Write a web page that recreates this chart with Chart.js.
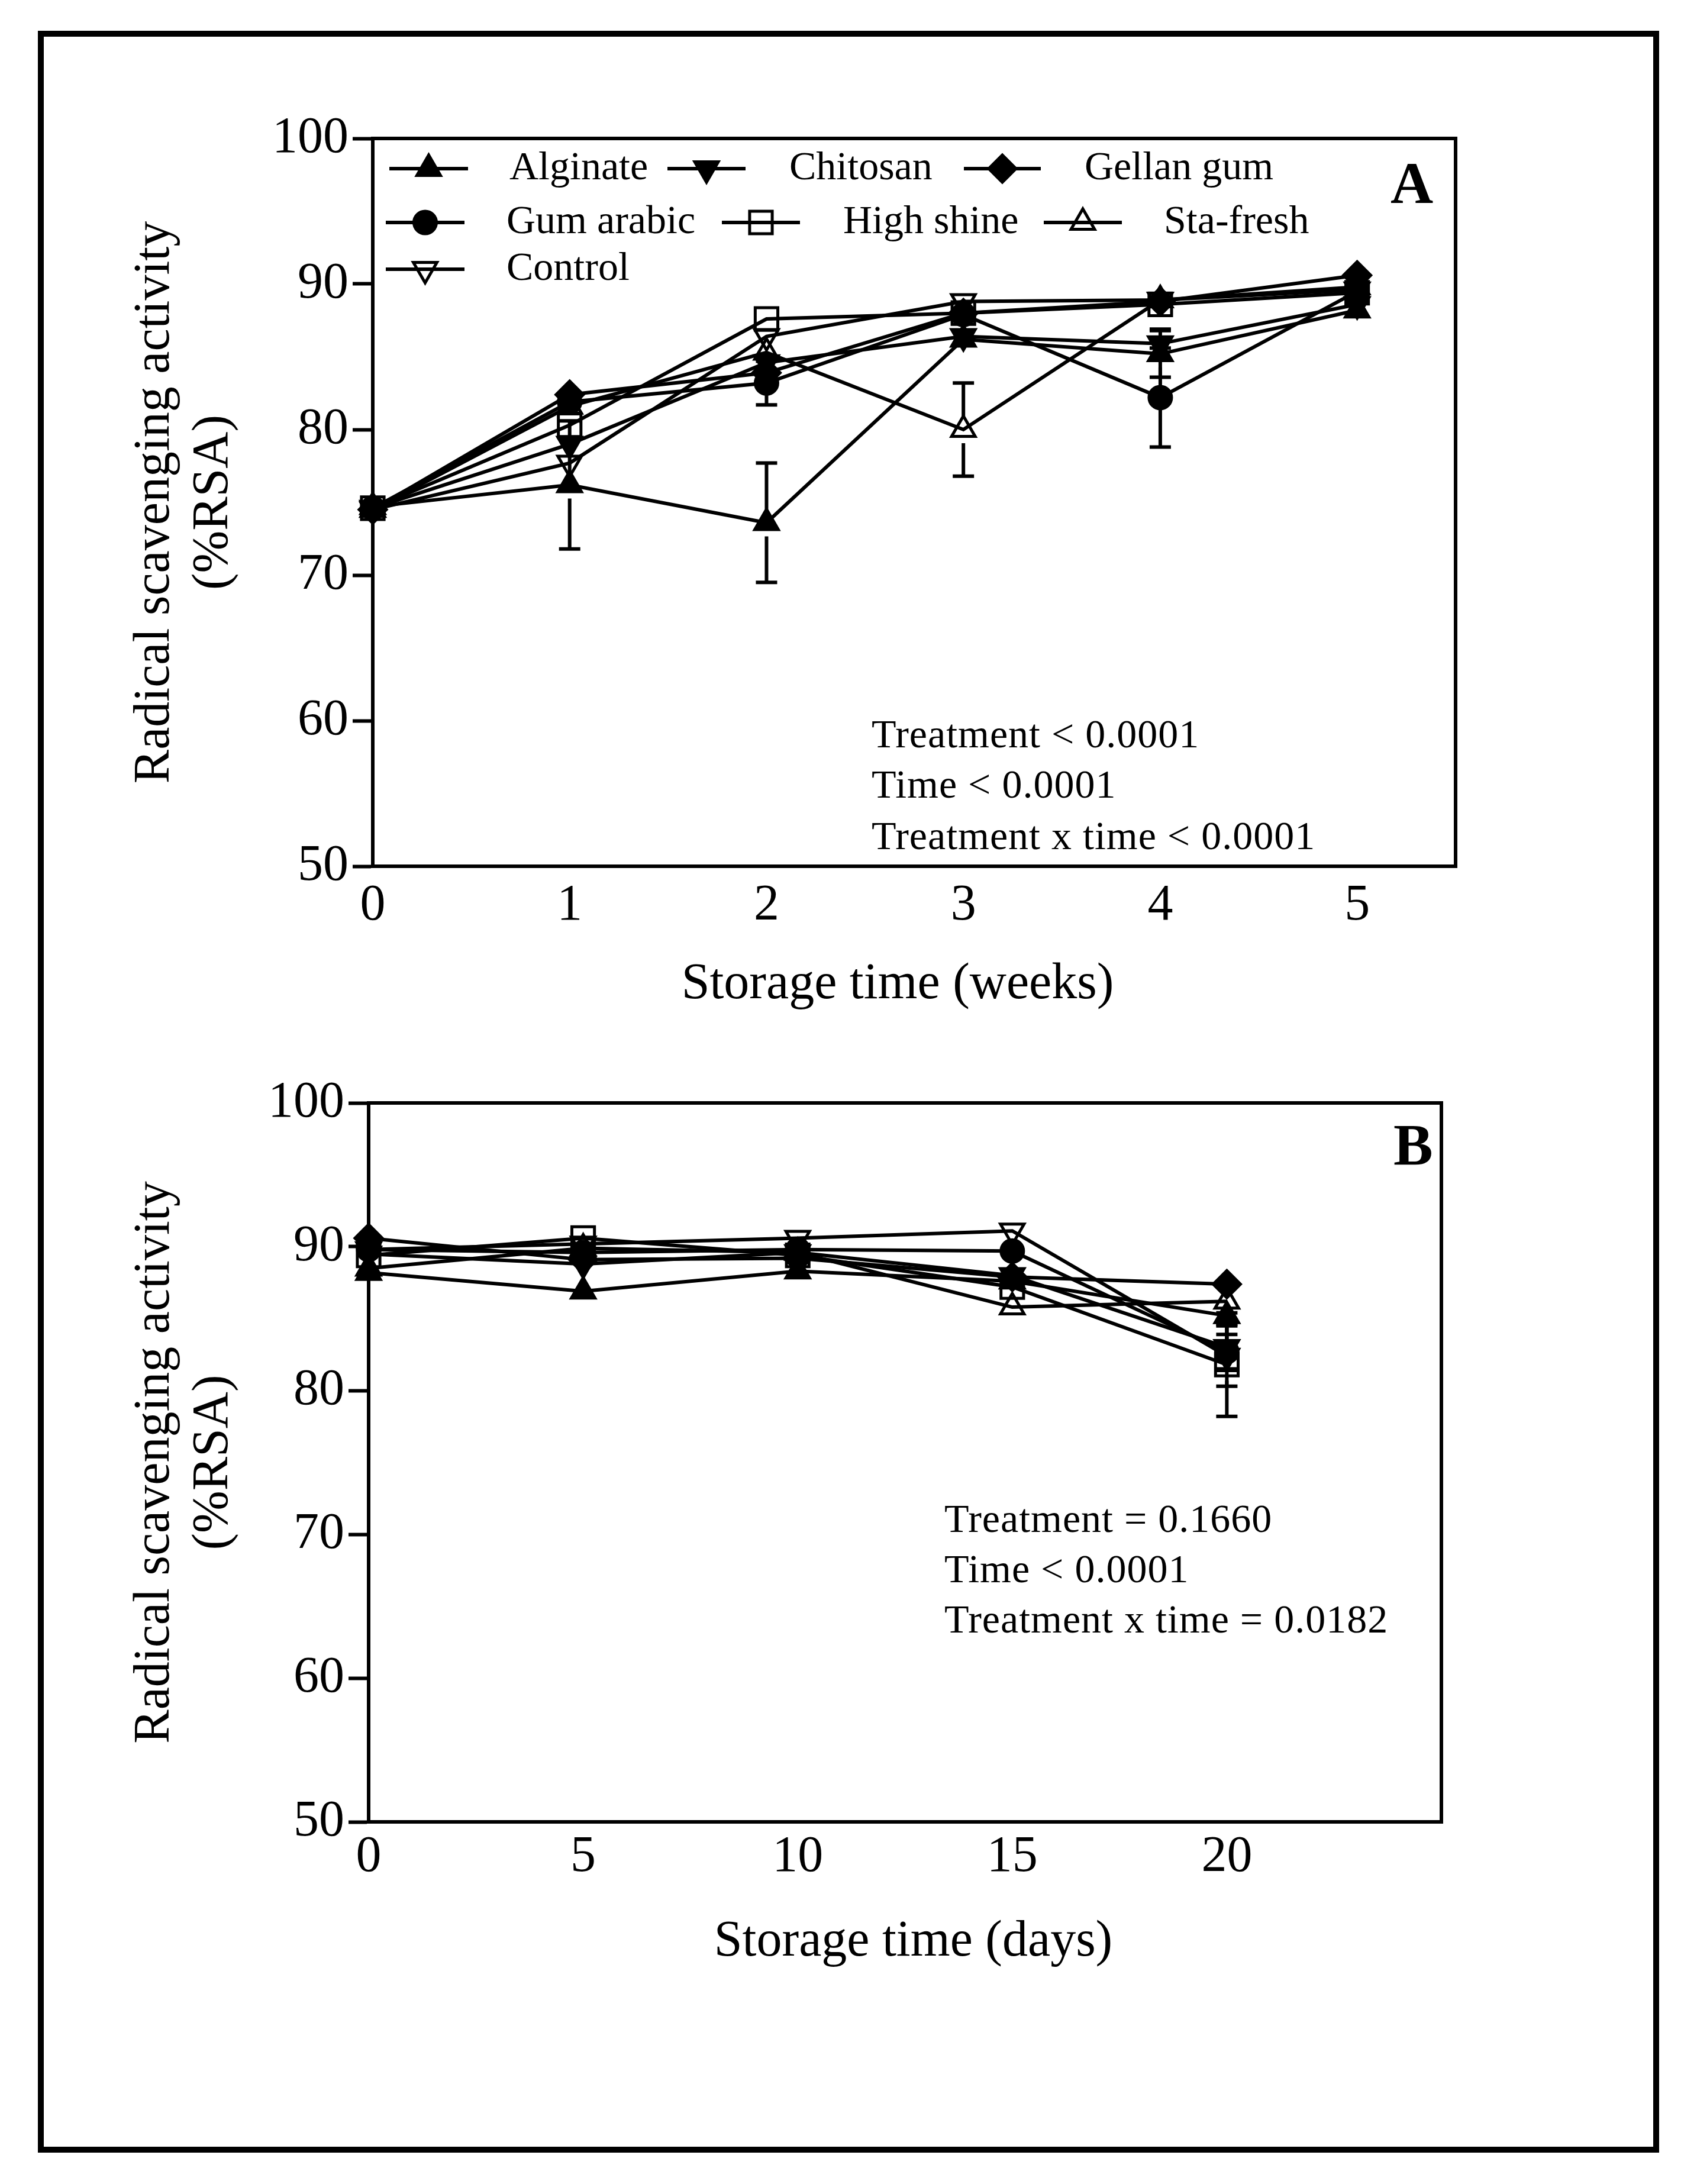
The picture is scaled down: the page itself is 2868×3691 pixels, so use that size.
<!DOCTYPE html>
<html>
<head>
<meta charset="utf-8">
<script src="https://cdn.jsdelivr.net/npm/chart.js@4.4.0/dist/chart.umd.min.js"></script>
<style>
  html, body { margin: 0; padding: 0; background: #fff; }
  body { width: 2868px; height: 3691px; position: relative; overflow: hidden; }
  #frame { position: absolute; left: 64px; top: 52px; width: 2740px; height: 3586px; border: 10px solid #000; box-sizing: border-box; }
  .panel { position: absolute; left: 0; width: 2868px; }
</style>
</head>
<body>
<div id="frame"></div>
<div class="panel" style="top:0;height:1760px"><canvas id="chart-a"></canvas></div>
<div class="panel" style="top:1760px;height:1800px"><canvas id="chart-b"></canvas></div>

<script>
// ---- data ----
const seriesNames = ['Alginate', 'Chitosan', 'Gellan gum', 'Gum arabic', 'High shine', 'Sta-fresh', 'Control'];

// panel A: storage time in weeks
const weeks = [0, 1, 2, 3, 4, 5];
const alginateA  = [74.7, 76.2, 73.6, 86.2, 85.2, 88.2];
const chitosanA  = [74.6, 79.0, 84.6, 86.4, 85.9, 88.6];
const gellanA    = [74.5, 82.4, 83.9, 88.0, 88.8, 90.6];
const gumArabicA = [74.6, 81.9, 83.2, 87.9, 82.2, 89.5];
const highShineA = [74.6, 80.3, 87.6, 88.0, 88.6, 89.4];
const staFreshA  = [74.5, 81.6, 85.3, 80.0, 88.9, 89.8];
const controlA   = [74.5, 77.7, 86.4, 88.8, 88.9, 89.6];

const alginateErrA  = [0.9, 4.4, 4.1, 0.6, 1.6, 0.4];
const chitosanErrA  = [0.5, 0.7, 0.8, 0.5, 1.0, 0.4];
const gellanErrA    = [0.4, 0.6, 0.6, 0.5, 0.5, 0.3];
const gumArabicErrA = [0.5, 0.6, 1.5, 0.6, 3.4, 0.4];
const highShineErrA = [0.5, 0.7, 0.5, 0.7, 0.6, 0.5];
const staFreshErrA  = [0.5, 0.6, 0.8, 3.2, 0.5, 0.4];
const controlErrA   = [0.5, 0.6, 0.6, 0.4, 0.4, 0.4];

// panel B: storage time in days
const days = [0, 5, 10, 15, 20];
const alginateB  = [88.2, 86.9, 88.3, 87.6, 85.2];
const chitosanB  = [89.5, 88.8, 89.6, 88.0, 83.0];
const gellanB    = [90.6, 89.1, 89.2, 87.9, 87.4];
const gumArabicB = [89.8, 89.6, 89.8, 89.7, 82.7];
const highShineB = [89.4, 90.6, 89.4, 87.2, 81.8];
const staFreshB  = [88.5, 89.9, 89.6, 85.8, 86.2];
const controlB   = [89.8, 90.2, 90.6, 91.1, 82.4];

const alginateErrB  = [0.4, 0.3, 0.4, 0.5, 0.6];
const chitosanErrB  = [0.3, 0.4, 0.4, 0.6, 1.6];
const gellanErrB    = [0.5, 0.3, 0.3, 0.5, 0.4];
const gumArabicErrB = [0.4, 0.3, 0.3, 0.6, 1.2];
const highShineErrB = [0.5, 0.4, 0.3, 0.9, 3.6];
const staFreshErrB  = [0.4, 0.5, 0.4, 0.8, 0.7];
const controlErrB   = [0.5, 0.4, 0.5, 0.6, 2.1];

const yTicks = [50, 60, 70, 80, 90, 100];

const statsA = ['Treatment < 0.0001', 'Time < 0.0001', 'Treatment x time < 0.0001'];
const statsB = ['Treatment = 0.1660', 'Time < 0.0001', 'Treatment x time = 0.0182'];

// ---- styles ----
const SERIF = '"Liberation Serif", "Times New Roman", serif';
const HOLLOW = 'rgba(0,0,0,0)';
const markerStyles = [
  { pointStyle: 'triangle', rotation: 0,   radius: 23, fill: '#000' },
  { pointStyle: 'triangle', rotation: 180, radius: 23, fill: '#000' },
  { pointStyle: 'rectRot',  rotation: 0,   radius: 23, fill: '#000' },
  { pointStyle: 'circle',   rotation: 0,   radius: 19, fill: '#000' },
  { pointStyle: 'rect',     rotation: 0,   radius: 27, fill: HOLLOW },
  { pointStyle: 'triangle', rotation: 0,   radius: 23, fill: HOLLOW },
  { pointStyle: 'triangle', rotation: 180, radius: 23, fill: HOLLOW },
];

// legend slots inside panel A: [row, line start, line end, text x]
const legendRows = [285, 376, 455];
const legendSlots = [
  [0, 658, 791, 861], [0, 1128, 1260, 1334], [0, 1629, 1759, 1833],
  [1, 652, 785, 856], [1, 1220, 1352, 1425], [1, 1764, 1896, 1967],
  [2, 652, 785, 856],
];

const errorBarPlugin = {
  id: 'errorBars',
  beforeDatasetsDraw(chart) {
    const ctx = chart.ctx;
    const ys = chart.scales.y;
    ctx.save();
    ctx.strokeStyle = '#000';
    ctx.lineWidth = 6;
    chart.data.datasets.forEach((ds, i) => {
      const meta = chart.getDatasetMeta(i);
      const r = ds.pointRadius;
      meta.data.forEach((pt, j) => {
        const v = ds.data[j].y, e = ds.errors[j];
        const hi = ys.getPixelForValue(v + e), lo = ys.getPixelForValue(v - e);
        ctx.beginPath();
        if (pt.y - hi > r) {
          ctx.moveTo(pt.x, hi); ctx.lineTo(pt.x, pt.y - r);
          ctx.moveTo(pt.x - 18, hi); ctx.lineTo(pt.x + 18, hi);
        }
        if (lo - pt.y > r) {
          ctx.moveTo(pt.x, pt.y + r); ctx.lineTo(pt.x, lo);
          ctx.moveTo(pt.x - 18, lo); ctx.lineTo(pt.x + 18, lo);
        }
        ctx.stroke();
      });
    });
    ctx.restore();
  }
};

const boxPlugin = {
  id: 'plotBox',
  beforeDatasetsDraw(chart) {
    const { left, right, top, bottom } = chart.chartArea;
    const ctx = chart.ctx;
    ctx.save();
    ctx.strokeStyle = '#000';
    ctx.lineWidth = 6;
    ctx.lineCap = 'square';
    ctx.beginPath();
    ctx.moveTo(left, top); ctx.lineTo(right, top); ctx.lineTo(right, bottom);
    ctx.stroke();
    ctx.restore();
  }
};

const notesPlugin = {
  id: 'notes',
  afterDraw(chart, args, opts) {
    const ctx = chart.ctx;
    ctx.save();
    ctx.fillStyle = '#000';
    ctx.strokeStyle = '#000';

    if (opts.legend) {
      ctx.font = '68px ' + SERIF;
      ctx.textAlign = 'left';
      ctx.textBaseline = 'middle';
      seriesNames.forEach((name, i) => {
        const [row, x1, x2, tx] = legendSlots[i];
        const y = legendRows[row];
        const m = markerStyles[i];
        ctx.lineWidth = 6;
        ctx.beginPath(); ctx.moveTo(x1, y); ctx.lineTo(x2, y); ctx.stroke();
        ctx.fillStyle = m.fill;
        ctx.lineWidth = 5;
        Chart.helpers.drawPoint(ctx, { pointStyle: m.pointStyle, rotation: m.rotation, radius: m.radius, borderWidth: 5 }, (x1 + x2) / 2, y);
        ctx.fillStyle = '#000';
        ctx.fillText(name, tx, y);
      });
    }

    ctx.font = '68px ' + SERIF;
    ctx.textAlign = 'left';
    ctx.textBaseline = 'alphabetic';
    ctx.letterSpacing = '1px';
    opts.stats.forEach((line, i) => ctx.fillText(line, opts.statsX, opts.statsY[i]));
    ctx.letterSpacing = '0px';

    ctx.font = 'bold 100px ' + SERIF;
    ctx.fillText(opts.letter, opts.letterX, opts.letterY);

    // x axis title, placed a little left of the plot centre as in the source figure
    const xs = chart.scales.x;
    ctx.font = '86px ' + SERIF;
    ctx.textAlign = 'center';
    ctx.textBaseline = 'middle';
    ctx.fillText(opts.xTitle, (chart.chartArea.left + chart.chartArea.right) / 2 + opts.xTitleShift, xs.bottom - 52);
    ctx.restore();
  }
};

function makePanel(canvasId, xs, vals, errs, cfg) {
  const datasets = vals.map((arr, i) => {
    const m = markerStyles[i];
    return {
      label: seriesNames[i],
      data: xs.map((x, j) => ({ x: x, y: arr[j] })),
      errors: errs[i],
      borderColor: '#000',
      borderWidth: 6,
      backgroundColor: m.fill,
      pointStyle: m.pointStyle,
      pointRotation: m.rotation,
      pointRadius: m.radius,
      pointBackgroundColor: m.fill,
      pointBorderColor: '#000',
      pointBorderWidth: 5,
      tension: 0,
      clip: false,
    };
  });

  return new Chart(document.getElementById(canvasId), {
    type: 'line',
    data: { datasets },
    options: {
      responsive: true, maintainAspectRatio: false,
      devicePixelRatio: 1,
      animation: false,
      events: [],
      layout: { padding: cfg.padding },
      plugins: {
        legend: { display: false },
        tooltip: { enabled: false },
        notes: cfg.notes,
      },
      scales: {
        x: {
          type: 'linear', min: 0, max: cfg.xMax,
          afterBuildTicks: s => { s.ticks = xs.map(v => ({ value: v })); },
          ticks: { color: '#000', font: { family: SERIF, size: 86 }, padding: cfg.xPad, maxRotation: 0, autoSkip: false },
          grid: { drawOnChartArea: false, drawTicks: false },
          border: { display: true, color: '#000', width: 6 },
          title: { display: false },
          afterFit: s => { s.height = cfg.xAxisH; },
        },
        y: {
          type: 'linear', min: 50, max: 100,
          afterBuildTicks: s => { s.ticks = yTicks.map(v => ({ value: v })); },
          ticks: { color: '#000', font: { family: SERIF, size: 86 }, padding: 7 },
          grid: { drawOnChartArea: false, drawTicks: true, tickLength: 34, tickWidth: 6, tickColor: '#000' },
          border: { display: true, color: '#000', width: 6 },
          title: { display: true, text: ['Radical scavenging activity', '(%RSA)'], color: '#000', font: { family: SERIF, size: 86, lineHeight: 1.15 }, padding: 0 },
          afterFit: s => { s.width = cfg.yAxisW; },
        },
      },
    },
    plugins: [boxPlugin, errorBarPlugin, notesPlugin],
  });
}

makePanel('chart-a', weeks,
  [alginateA, chitosanA, gellanA, gumArabicA, highShineA, staFreshA, controlA],
  [alginateErrA, chitosanErrA, gellanErrA, gumArabicErrA, highShineErrA, staFreshErrA, controlErrA],
  {
    padding: { left: 213, top: 234, right: 408, bottom: 44 },
    yAxisW: 417, xAxisH: 252, xMax: 5.5, xPad: 16,
    notes: { legend: true, stats: statsA, statsX: 1473, statsY: [1263, 1348, 1435], letter: 'A', letterX: 2350, letterY: 343,
             xTitle: 'Storage time (weeks)', xTitleShift: -28 },
  });

makePanel('chart-b', days,
  [alginateB, chitosanB, gellanB, gumArabicB, highShineB, staFreshB, controlB],
  [alginateErrB, chitosanErrB, gellanErrB, gumArabicErrB, highShineErrB, staFreshErrB, controlErrB],
  {
    padding: { left: 213, top: 104, right: 432, bottom: 226 },
    yAxisW: 410, xAxisH: 255, xMax: 25, xPad: 9,
    notes: { legend: false, stats: statsB, statsX: 1596, statsY: [829, 914, 999], letter: 'B', letterX: 2355, letterY: 208,
             xTitle: 'Storage time (days)', xTitleShift: 14 },
  });
</script>
</body>
</html>
